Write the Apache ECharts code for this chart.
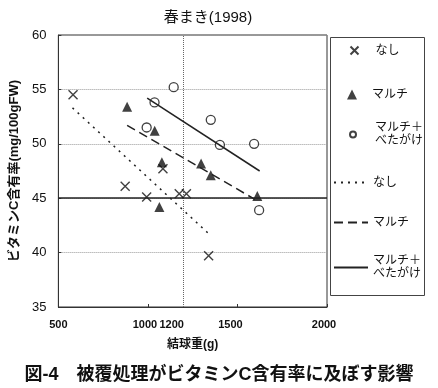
<!DOCTYPE html>
<html><head><meta charset="utf-8">
<script src="https://cdn.jsdelivr.net/npm/echarts@6/dist/echarts.min.js"></script>
<style>html,body{margin:0;padding:0;background:#fff}#c{width:438px;height:388px}</style>
</head><body><div id="c"></div>
<script>
const FONT = "'Liberation Sans','Noto Sans CJK JP',sans-serif";
// scatter data: 結球重(g) vs ビタミンC含有率
const xNone  = [582, 873, 993, 1084, 1175, 1215, 1339];
const yNone  = [54.5, 46.1, 45.1, 47.7, 45.4, 45.4, 39.7];
const xMulch = [884, 1038, 1078, 1064, 1297, 1351, 1611];
const yMulch = [53.4, 51.2, 48.3, 44.2, 48.2, 47.1, 45.2];
const xMB    = [1037, 1144, 993, 1351, 1402, 1593, 1621];
const yMB    = [53.8, 55.2, 51.5, 52.2, 49.9, 50.0, 43.9];
// regression lines (endpoints)
const lineNoneX  = [579, 1342];
const lineNoneY  = [53.3, 41.7];
const lineMulchX = [884, 1597];
const lineMulchY = [51.7, 44.9];
const lineMBX    = [996, 1624];
const lineMBY    = [54.2, 47.5];
// axis ticks
const xTickLabels = [500, 1000, 1200, 1500, 2000];
const xTickMarks  = [500, 1000, 1500, 2000];
const refX = 1200, refY = 45;
const names = ['なし', 'マルチ', 'マルチ＋\nべたがけ'];

const zip = (a, b) => a.map((v, i) => [v, b[i]]);
const CROSS = 'path://M0,0L10,10M10,0L0,10';
const labelShift = {1000: 3, 1200: 12, 1500: 7, 2000: 3};

const chart = echarts.init(document.getElementById('c'), null, {renderer: 'canvas'});

function leg(id, left, top, w, h, single, label, isLine) {
  const o = {
    data: [id], left: left, top: top, padding: 0, orient: 'vertical',
    itemWidth: w, itemHeight: h, selectedMode: false,
    formatter: () => label,
    textStyle: {fontFamily: FONT, fontSize: 12, color: '#111', lineHeight: 13,
      padding: [single ? 0 : 13, 0, 0, isLine ? 0 : 20 - w]}
  };
  if (isLine) o.itemStyle = {color: 'transparent', borderWidth: 0, opacity: 0};
  return o;
}

const rich = {};
Object.keys(labelShift).forEach(k => {
  rich['s' + k] = {padding: [0, labelShift[k] * 2, 0, 0], fontFamily: FONT, fontSize: 11, color: '#111', fontWeight: 'bold'};
});

chart.setOption({
  animation: false,
  backgroundColor: '#fff',
  title: [
    {text: '春まき(1998)', left: 203, top: 5, textAlign: 'center',
     textStyle: {fontFamily: FONT, fontSize: 15, fontWeight: 'normal', color: '#111'}},
    {text: '図-4　被覆処理がビタミンC含有率に及ぼす影響', left: 'center', top: 361,
     textStyle: {fontFamily: FONT, fontSize: 18, fontWeight: 'bold', color: '#111'}}
  ],
  grid: {left: 52, top: 35, width: 275, height: 272, show: true, borderColor: '#333', borderWidth: 1},
  xAxis: {
    type: 'value', min: 500, max: 2000, interval: 500,
    name: '結球重(g)', nameLocation: 'middle', nameGap: 32,
    nameTextStyle: {fontFamily: FONT, fontSize: 12, color: '#111', fontWeight: 'bold'},
    axisLine: {lineStyle: {color: '#333'}},
    axisTick: {show: true, inside: true, length: 3, customValues: xTickMarks, lineStyle: {color: '#333'}},
    axisLabel: {customValues: xTickLabels, margin: 12, color: '#111', fontFamily: FONT, fontSize: 11,
      fontWeight: 'bold',
      formatter: v => labelShift[v] ? '{s' + v + '|' + v + '}' : String(v),
      rich: rich},
    splitLine: {show: false}
  },
  yAxis: {
    type: 'value', min: 35, max: 60, interval: 5,
    name: 'ビタミンC含有率(mg/100gFW)', nameLocation: 'middle', nameGap: 31,
    nameTextStyle: {fontFamily: FONT, fontSize: 13, color: '#111', fontWeight: 'bold'},
    axisLine: {show: true, lineStyle: {color: '#333'}},
    axisTick: {show: true, inside: true, length: 3, lineStyle: {color: '#333'}},
    axisLabel: {margin: 12, color: '#111', fontFamily: FONT, fontSize: 13},
    splitLine: {lineStyle: {color: '#999', type: 'dotted'}}
  },
  legend: [
    leg('なし点', 348, 44, 8, 8, true, names[0], false),
    leg('マルチ点', 347, 88, 10, 10, true, names[1], false),
    leg('マルチ＋べたがけ点', 349, 115, 6, 6, false, names[2], false),
    leg('なし線', 333, 176, 34, 10, true, names[0], true),
    leg('マルチ線', 333, 216, 34, 10, true, names[1], true),
    leg('マルチ＋べたがけ線', 333, 248, 34, 10, false, names[2], true)
  ],
  graphic: [{type: 'rect', left: 328, top: 35, shape: {width: 94, height: 258},
    style: {fill: 'none', stroke: '#444', lineWidth: 1}, silent: true}],
  series: [
    {name: 'なし点', type: 'scatter', data: zip(xNone, yNone), symbol: CROSS, symbolSize: 9,
     itemStyle: {color: 'none', borderColor: '#111', borderWidth: 1.4},
     markLine: {silent: true, symbol: 'none', label: {show: false},
       data: [
         {xAxis: refX, lineStyle: {color: '#666', type: 'dotted', width: 1}},
         {yAxis: refY, lineStyle: {color: '#222', type: 'solid', width: 1.5}}
       ]}},
    {name: 'マルチ点', type: 'scatter', data: zip(xMulch, yMulch), symbol: 'triangle', symbolSize: 10,
     itemStyle: {color: '#111'}},
    {name: 'マルチ＋べたがけ点', type: 'scatter', data: zip(xMB, yMB), symbol: 'circle', symbolSize: 9,
     itemStyle: {color: '#fff', borderColor: '#111', borderWidth: 1.3}},
    {name: 'なし線', type: 'line', data: zip(lineNoneX, lineNoneY), symbol: 'none',
     itemStyle: {color: '#222'}, lineStyle: {color: '#222', width: 1.5, type: [2, 5]}},
    {name: 'マルチ線', type: 'line', data: zip(lineMulchX, lineMulchY), symbol: 'none',
     itemStyle: {color: '#222'}, lineStyle: {color: '#222', width: 1.5, type: [9, 5]}},
    {name: 'マルチ＋べたがけ線', type: 'line', data: zip(lineMBX, lineMBY), symbol: 'none',
     itemStyle: {color: '#222'}, lineStyle: {color: '#222', width: 1.5, type: 'solid'}}
  ]
});
</script></body></html>
